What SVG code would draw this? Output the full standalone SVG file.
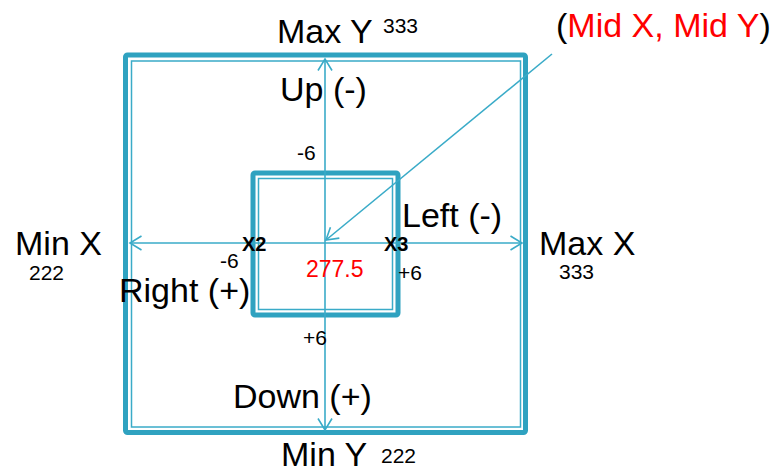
<svg xmlns="http://www.w3.org/2000/svg" width="778" height="473" viewBox="0 0 778 473">
<style>
.thick{fill:none;stroke:#2FA2C0;stroke-width:5}
.thin{fill:none;stroke:#3AABC8;stroke-width:1.5}
.ax{fill:none;stroke:#3AABC8;stroke-width:1.6}
.big{font-family:"Liberation Sans",Arial,sans-serif;font-size:34px;fill:#000}
.sm{font-family:"Liberation Sans",Arial,sans-serif;font-size:21px;fill:#000}
.bold{font-family:"Liberation Sans",Arial,sans-serif;font-size:20px;font-weight:bold;fill:#000}
.red{fill:#FF0000}
</style>
<defs>
<marker id="arr" markerUnits="userSpaceOnUse" viewBox="-13 -9 15 18" markerWidth="15" markerHeight="18" refX="0" refY="0" orient="auto-start-reverse">
<path d="M-11.5,-7 L0,0 L-11.5,7" fill="none" stroke="#3AABC8" stroke-width="1.6"/>
</marker>
</defs>
<g id="outer-box">
<rect class="thick" x="125.5" y="55" width="400" height="377.5" rx="2"/>
<rect class="thin" x="131.5" y="61" width="389" height="366"/>
</g>
<g id="inner-box">
<rect class="thick" x="253" y="173" width="145" height="142" rx="2"/>
<rect class="thin" x="258.5" y="178.5" width="134" height="131"/>
</g>
<g id="connectors">
<line class="ax" x1="325" y1="59" x2="325" y2="430" marker-start="url(#arr)" marker-end="url(#arr)"/>
<line class="ax" x1="130" y1="243" x2="522" y2="243" marker-start="url(#arr)" marker-end="url(#arr)"/>
<line class="ax" x1="552" y1="54" x2="326" y2="240" marker-end="url(#arr)"/>
</g>
<g id="labels">
<text class="big" x="277" y="43">Max Y</text>
<text class="sm" x="383" y="33">333</text>
<text class="big" x="556" y="37">(<tspan class="red">Mid X, Mid Y</tspan>)</text>
<text class="big" x="280" y="101">Up (-)</text>
<text class="sm" x="297" y="160">-6</text>
<text class="big" x="402" y="227">Left (-)</text>
<text class="big" x="15" y="255">Min X</text>
<text class="sm" x="29" y="280">222</text>
<text class="big" x="539" y="255">Max X</text>
<text class="sm" x="559" y="279">333</text>
<text class="bold" x="242" y="251">X2</text>
<text class="bold" x="384" y="251">X3</text>
<text class="sm" x="220" y="268">-6</text>
<text class="sm red" x="306" y="277" style="font-size:23px">277.5</text>
<text class="sm" x="398" y="280">+6</text>
<text class="big" x="119" y="302">Right (+)</text>
<text class="sm" x="303" y="345">+6</text>
<text class="big" x="233" y="408">Down (+)</text>
<text class="big" x="281" y="466">Min Y</text>
<text class="sm" x="381" y="463">222</text>
</g>
</svg>
